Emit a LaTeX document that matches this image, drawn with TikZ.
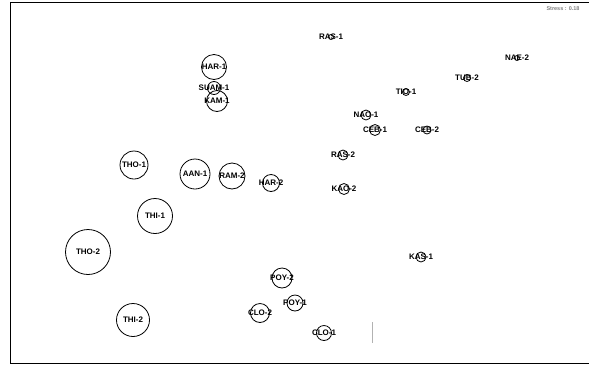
\documentclass[tikz,border=0pt]{standalone}
\usepackage{fontspec}
\setmainfont{Liberation Sans}

\begin{document}
\begin{tikzpicture}[
  x=1pt,
  y=-1pt,
  font=\fontsize{8}{9}\selectfont\bfseries,
  site/.style={
    circle,
    draw,
    line width=0.8pt,
    inner sep=0pt,
    minimum size=#1
  },
  site/.default=10pt,
  frame/.style={
    draw,
    line width=0.9pt
  }
  ]
  \useasboundingbox (0, 0) rectangle (589, 365);
  \draw [frame] (589, 2) -- (10, 2) -- (10, 363) -- (589, 363);
  \node [text=gray, font=\fontsize{5.5}{6}\selectfont\bfseries] (Stress) at (563, 9) {Stress : 0.18};

  % upper right group
  \node [site=5pt, label=center:RAS-1] (RAS1) at (331, 37) {};
  \node [site=5pt, label=center:NAE-2] (NAE2) at (517, 58) {};
  \node [site=7pt, label=center:TUB-2] (TUB2) at (467, 78) {};
  \node [site=7pt, label=center:TIO-1] (TIO1) at (406, 92) {};
  \node [site=10pt, label=center:NAO-1] (NAO1) at (366, 115) {};
  \node [site=11pt, label=center:CEB-1] (CEB1) at (375, 130) {};
  \node [site=8pt, label=center:CEB-2] (CEB2) at (427, 130) {};
  \node [site=10pt, label=center:RAS-2] (RAS2) at (343, 155) {};
  \node [site=11pt, label=center:KAO-2] (KAO2) at (344, 189) {};
  \node [site=10pt, label=center:KAS-1] (KAS1) at (421, 257) {};

  % upper left group
  \node [site=25pt, label=center:HAR-1] (HAR1) at (214, 67) {};
  \node [site=13pt, label=center:SUAM-1] (SUAM1) at (214, 88) {};
  \node [site=21pt, label=center:KAM-1] (KAM1) at (217, 101) {};
  \node [site=28pt, label=center:THO-1] (THO1) at (134, 165) {};
  \node [site=30pt, label=center:AAN-1] (AAN1) at (195, 174) {};
  \node [site=26pt, label=center:RAM-2] (RAM2) at (232, 176) {};
  \node [site=17pt, label=center:HAR-2] (HAR2) at (271, 183) {};
  \node [site=35pt, label=center:THI-1] (THI1) at (155, 216) {};
  \node [site=45pt, label=center:THO-2] (THO2) at (88, 252) {};
  \node [site=33pt, label=center:THI-2] (THI2) at (133, 320) {};

  % lower group
  \node [site=20pt, label=center:POY-2] (POY2) at (282, 278) {};
  \node [site=19pt, label=center:CLO-2] (CLO2) at (260, 313) {};
  \node [site=16pt, label=center:POY-1] (POY1) at (295, 303) {};
  \node [site=15pt, label=center:CLO-1] (CLO1) at (324, 333) {};

  \draw [gray!60, line width=0.8pt] (372, 322) -- (372, 343);
\end{tikzpicture}
\end{document}
